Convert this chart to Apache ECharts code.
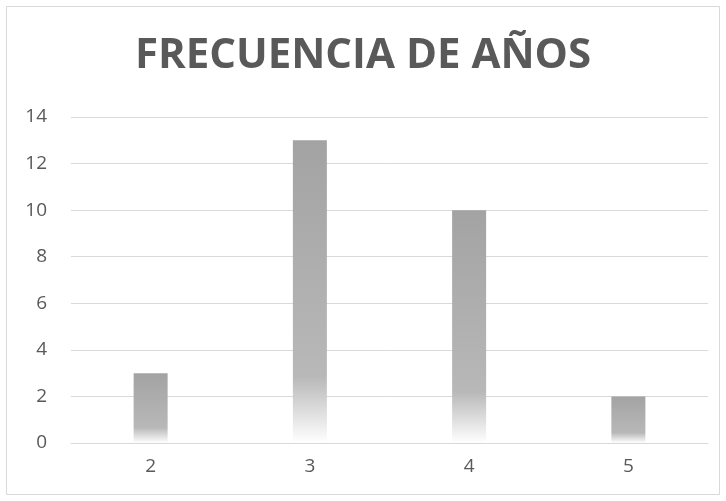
<!DOCTYPE html>
<html>
<head>
<meta charset="utf-8">
<script src="https://cdn.jsdelivr.net/npm/echarts@6/dist/echarts.min.js"></script>
<style>
  html, body { margin: 0; padding: 0; background: #fff; }
  #chart-container { width: 726px; height: 501px; }
</style>
</head>
<body>
<div id="chart-container"></div>
<script>
var categories = ['2', '3', '4', '5'];
var frecuencia = [3, 13, 10, 2];
var yTicks = { min: 0, max: 14, interval: 2 };

var dom = document.getElementById('chart-container');
var myChart = echarts.init(dom, null, { renderer: 'canvas' });

var barGradient = new echarts.graphic.LinearGradient(0, 0, 0, 1, [
  { offset: 0, color: '#a3a3a3' },
  { offset: 0.78, color: '#b8b8b8' },
  { offset: 1, color: '#ffffff' }
]);

var option = {
  backgroundColor: '#fff',
  title: {
    text: 'FRECUENCIA DE AÑOS',
    left: 'center',
    top: 30,
    textStyle: {
      fontFamily: 'Open Sans',
      fontWeight: 'bold',
      fontSize: 42,
      color: '#595959'
    }
  },
  graphic: [{
    type: 'rect',
    shape: { x: 6.5, y: 6.5, width: 713, height: 488 },
    style: { fill: 'none', stroke: '#d9d9d9', lineWidth: 1 },
    silent: true
  }],
  grid: { left: 71, right: 18, top: 117, bottom: 58, containLabel: false },
  xAxis: {
    type: 'category',
    data: categories,
    axisLine: { lineStyle: { color: '#d9d9d9', width: 1 } },
    axisTick: { show: false },
    axisLabel: { color: '#595959', fontSize: 19, fontFamily: 'Open Sans', margin: 14 }
  },
  yAxis: {
    type: 'value',
    min: yTicks.min,
    max: yTicks.max,
    interval: yTicks.interval,
    axisLine: { show: false },
    axisTick: { show: false },
    splitLine: { lineStyle: { color: '#d9d9d9', width: 1 } },
    axisLabel: { color: '#595959', fontSize: 19, fontFamily: 'Open Sans', margin: 24 }
  },
  series: [{
    name: 'Frecuencia',
    type: 'bar',
    data: frecuencia,
    barWidth: 34,
    itemStyle: { color: barGradient }
  }]
};

myChart.setOption(option);
window.addEventListener('resize', myChart.resize);
</script>
</body>
</html>
